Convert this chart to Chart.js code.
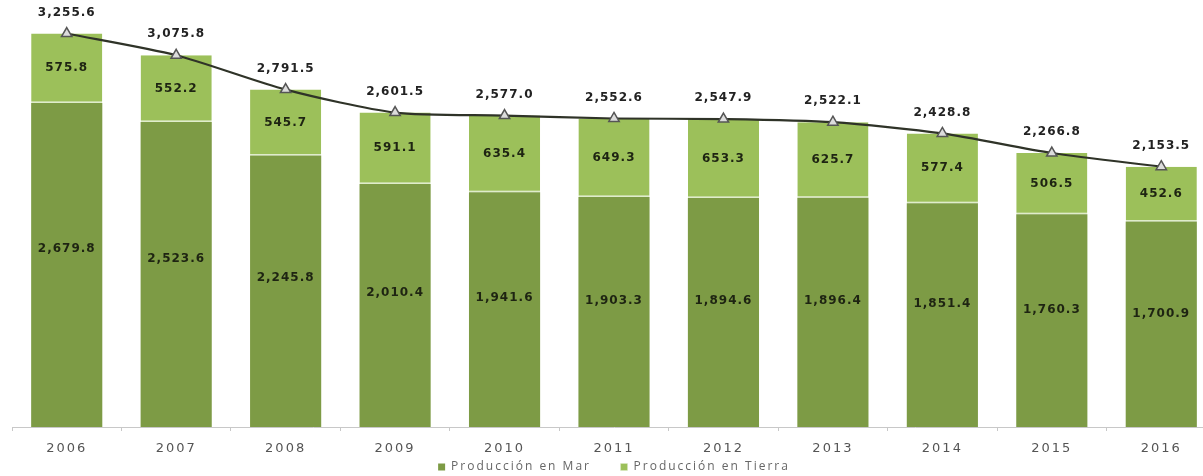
<!DOCTYPE html>
<html>
<head>
<meta charset="utf-8">
<script src="https://cdn.jsdelivr.net/npm/chart.js@4/dist/chart.umd.min.js"></script>
<style>
  html, body { margin: 0; padding: 0; background: #fff; overflow: hidden; }
  #wrap { position: relative; width: 1218px; height: 476px; }
</style>
</head>
<body>
<div id="wrap"><canvas id="prodChart"></canvas></div>
<script>
  var years = ['2006', '2007', '2008', '2009', '2010', '2011', '2012', '2013', '2014', '2015', '2016'];
  var produccionMar = [2679.8, 2523.6, 2245.8, 2010.4, 1941.6, 1903.3, 1894.6, 1896.4, 1851.4, 1760.3, 1700.9];
  var produccionTierra = [575.8, 552.2, 545.7, 591.1, 635.4, 649.3, 653.3, 625.7, 577.4, 506.5, 452.6];
  var totales = [3255.6, 3075.8, 2791.5, 2601.5, 2577.0, 2552.6, 2547.9, 2522.1, 2428.8, 2266.8, 2153.5];

  var colorMar = '#7d9b45';
  var colorTierra = '#9cc05a';
  var yMax = 3533;

  function fmt(v) {
    return v.toLocaleString('en-US', { minimumFractionDigits: 1, maximumFractionDigits: 1 });
  }

  // the source chart is stretched sideways, so widen all text a bit
  var spacing = {
    id: 'spacing',
    beforeLayout: function (chart) {
      chart.ctx.letterSpacing = '2px';
    }
  };

  // value labels inside the segments and above the line points
  var valueLabels = {
    id: 'valueLabels',
    afterDatasetsDraw: function (chart) {
      var ctx = chart.ctx;
      ctx.save();
      ctx.letterSpacing = '1px';
      ctx.textAlign = 'center';
      ctx.textBaseline = 'middle';
      ctx.font = 'bold 12px "DejaVu Sans"';
      ctx.fillStyle = '#1e2412';
      chart.getDatasetMeta(0).data.forEach(function (bar, j) {
        ctx.fillText(fmt(produccionMar[j]), bar.x, bar.y + (bar.base - bar.y) * 0.45);
      });
      chart.getDatasetMeta(1).data.forEach(function (bar, j) {
        ctx.fillText(fmt(produccionTierra[j]), bar.x, (bar.y + bar.base) / 2);
      });
      ctx.fillStyle = '#222';
      chart.getDatasetMeta(2).data.forEach(function (pt, j) {
        ctx.fillText(fmt(totales[j]), pt.x, pt.y - 21);
      });
      ctx.restore();
    }
  };

  new Chart(document.getElementById('prodChart').getContext('2d'), {
    data: {
      labels: years,
      datasets: [{
        type: 'bar',
        label: 'Producción en Mar',
        data: produccionMar,
        backgroundColor: colorMar,
        stack: 'prod',
        order: 2,
        categoryPercentage: 0.65,
        barPercentage: 1
      }, {
        type: 'bar',
        label: 'Producción en Tierra',
        data: produccionTierra,
        backgroundColor: colorTierra,
        borderColor: '#dfeccb',
        borderWidth: { bottom: 1.5, top: 0, left: 0, right: 0 },
        borderSkipped: false,
        stack: 'prod',
        order: 2,
        categoryPercentage: 0.65,
        barPercentage: 1
      }, {
        type: 'line',
        label: 'Total',
        data: totales,
        stack: 'total',
        order: 0,
        borderColor: '#2f3328',
        borderWidth: 2.2,
        tension: 0.25,
        pointStyle: 'triangle',
        pointRadius: 6,
        pointBackgroundColor: '#dcdcdc',
        pointBorderColor: '#555',
        pointBorderWidth: 1.5,
        clip: false
      }]
    },
    options: {
      responsive: true,
      maintainAspectRatio: false,
      animation: false,
      layout: { autoPadding: false, padding: { left: 12, right: 2, top: 0, bottom: 0 } },
      plugins: {
        legend: {
          position: 'bottom',
          maxHeight: 19,
          labels: {
            boxWidth: 7,
            boxHeight: 7,
            padding: 4,
            color: '#666',
            font: { family: '"Open Sans"', size: 12 },
            generateLabels: function (chart) {
              var items = Chart.defaults.plugins.legend.labels.generateLabels(chart)
                .filter(function (item) { return item.datasetIndex < 2; });
              items[0].text += '     ';
              return items;
            }
          }
        },
        tooltip: { enabled: false }
      },
      scales: {
        x: {
          stacked: true,
          afterFit: function (scale) { scale.height = 30; },
          grid: { drawOnChartArea: false, drawTicks: true, tickLength: 4, color: '#c8c8c8' },
          border: { color: '#c8c8c8' },
          ticks: { color: '#555', padding: 10, font: { family: '"DejaVu Sans"', size: 13 } }
        },
        y: {
          stacked: true,
          display: false,
          min: 0,
          max: yMax
        }
      }
    },
    plugins: [spacing, valueLabels]
  });
</script>
</body>
</html>
